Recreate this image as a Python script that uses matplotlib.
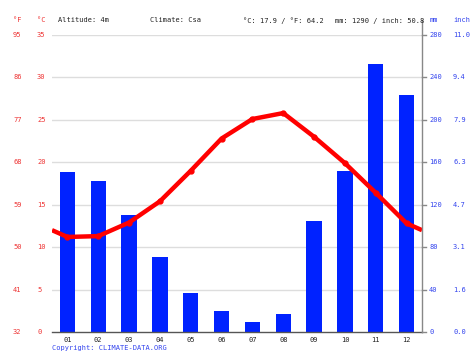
import matplotlib
matplotlib.use('Agg')
import matplotlib.pyplot as plt
from matplotlib.transforms import blended_transform_factory

# climate data
months = ['01', '02', '03', '04', '05', '06', '07', '08', '09', '10', '11', '12']
precip_mm = [151, 142, 110, 71, 37, 20, 9, 17, 105, 152, 253, 223]
temp_c = [11.2, 11.3, 12.9, 15.4, 19.0, 22.8, 25.1, 25.8, 23.0, 19.9, 16.4, 12.8]
c_ticks = [0, 5, 10, 15, 20, 25, 30, 35]
f_labels = ['32', '41', '50', '59', '68', '77', '86', '95']
mm_ticks = [0, 40, 80, 120, 160, 200, 240, 280]
inch_labels = ['0.0', '1.6', '3.1', '4.7', '6.3', '7.9', '9.4', '11.0']
header = ['Altitude: 4m', 'Climate: Csa', '°C: 17.9 / °F: 64.2', 'mm: 1290 / inch: 50.8']

RED = '#ff0000'
TXT_RED = '#ee3333'
BLUE = '#0022ff'
TXT_BLUE = '#3344ee'
FONT = 'DejaVu Sans Mono'
FS = 5

W, H = 474, 355
fig = plt.figure(figsize=(W / 100, H / 100), dpi=100)
left, right, top, bottom = 52, 422, 35, 332
ax_mm = fig.add_axes([left / W, 1 - bottom / H, (right - left) / W, (bottom - top) / H])
ax_t = ax_mm.twinx()

x = list(range(1, 13))

# bars (precipitation)
ax_mm.bar(x, precip_mm, width=0.5, color=BLUE, zorder=2)
ax_mm.set_ylim(0, 280)
ax_mm.set_xlim(0.5, 12.5)

# temperature line, closed over the year ends
edge = (temp_c[0] + temp_c[-1]) / 2
ax_t.plot([0.5] + x + [12.5], [edge] + temp_c + [edge], color=RED, lw=3.2,
          solid_capstyle='butt', zorder=3)
ax_t.plot(x, temp_c, 'o', color=RED, ms=3.5, zorder=4)
ax_t.set_ylim(0, 35)
ax_t.set_xlim(0.5, 12.5)

# grid lines
for c in c_ticks[1:]:
    ax_mm.axhline(c * 8, color='#dddddd', lw=1, zorder=1)

for a in (ax_mm, ax_t):
    for s in ('left', 'top', 'right'):
        a.spines[s].set_visible(False)
    a.set_yticks([])
ax_mm.spines['bottom'].set_color('#555555')
ax_mm.spines['bottom'].set_linewidth(1)
ax_t.spines['bottom'].set_visible(False)

# right axis line extending above the plot
ax_t.plot([12.5, 12.5], [0, 36.8], color='#888888', lw=1, clip_on=False, zorder=5)
for c in c_ticks:
    ax_t.plot([12.5, 12.62], [c, c], color='#888888', lw=1, clip_on=False, zorder=5)

# month ticks at boundaries, labels at centers
ax_mm.set_xticks([i + 0.5 for i in range(0, 13)], minor=False)
ax_mm.set_xticklabels([])
ax_mm.tick_params(axis='x', length=2, width=0.8, color='#555555', direction='inout')
ax_t.set_xticks([])
for i, m in zip(x, months):
    ax_mm.text(i, -5, m, ha='center', va='top', fontsize=FS, family=FONT, color='#222222')

# side labels
tr = blended_transform_factory(fig.transFigure, ax_t.transData)
for c, f in zip(c_ticks, f_labels):
    fig.text(13 / W, 0, f, transform=tr, fontsize=FS, family=FONT, color=TXT_RED,
             va='center', ha='left').set_y(c)
    fig.text(37 / W, 0, str(c), transform=tr, fontsize=FS, family=FONT, color=TXT_RED,
             va='center', ha='left').set_y(c)
trm = blended_transform_factory(fig.transFigure, ax_mm.transData)
for mm, inch in zip(mm_ticks, inch_labels):
    t1 = fig.text(429 / W, 0, str(mm), transform=trm, fontsize=FS, family=FONT,
                  color=TXT_BLUE, va='center', ha='left')
    t1.set_y(mm)
    t2 = fig.text(453 / W, 0, inch, transform=trm, fontsize=FS, family=FONT,
                  color=TXT_BLUE, va='center', ha='left')
    t2.set_y(mm)

# header row
hy = 1 - 20.5 / H
fig.text(13 / W, hy, '°F', fontsize=FS, family=FONT, color=TXT_RED, va='center')
fig.text(37 / W, hy, '°C', fontsize=FS, family=FONT, color=TXT_RED, va='center')
for px, s in zip([58, 150, 243, 335], header):
    fig.text(px / W, hy, s, fontsize=FS, family=FONT, color='#222222', va='center')
fig.text(430 / W, hy, 'mm', fontsize=FS, family=FONT, color=TXT_BLUE, va='center')
fig.text(453 / W, hy, 'inch', fontsize=FS, family=FONT, color=TXT_BLUE, va='center')

fig.text(52 / W, 1 - 348 / H, 'Copyright: CLIMATE-DATA.ORG', fontsize=FS, family=FONT,
         color=TXT_BLUE, va='center')

fig.savefig('out.png', dpi=100)
